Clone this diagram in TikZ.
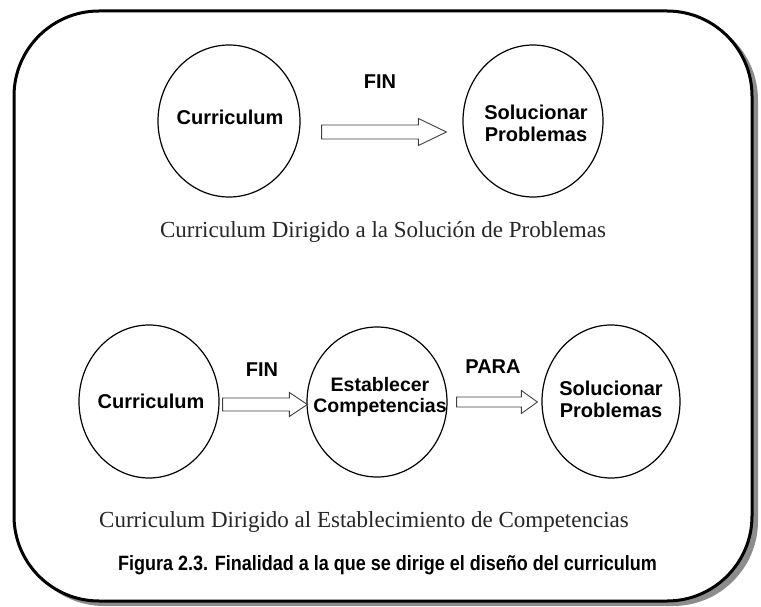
\documentclass[tikz,border=0pt]{standalone}
\usepackage{fontspec}
\setmainfont{Liberation Serif}
\setsansfont{Liberation Sans}
\usetikzlibrary{shapes.geometric,calc}
\begin{document}
\begin{tikzpicture}[x=1pt,y=-1pt,
  bubble/.style={draw=black, line width=1.2pt, ellipse, inner sep=0pt},
  btext/.style={align=center, inner sep=0pt, font=\sffamily\bfseries\fontsize{20}{22}\selectfont},
  lbl/.style={font=\sffamily\bfseries\fontsize{20}{24}\selectfont},
  capt/.style={anchor=base, inner sep=0pt, font=\rmfamily\fontsize{23}{26}\selectfont, text=black!85},
  figcap/.style={anchor=base, inner sep=0pt, font=\sffamily\bfseries\fontsize{18}{20}\selectfont},
  blockarrow/.style n args={3}{draw=black!75, fill=white, line width=0.9pt, line join=miter,
    to path={let \p1=(\tikztostart), \p2=(\tikztotarget) in
      (\x1,\y1+#2) -- (\x2-#1,\y1+#2) -- (\x2-#1,\y1+#3) -- (\x2,\y1)
      -- (\x2-#1,\y1-#3) -- (\x2-#1,\y1-#2) -- (\x1,\y1-#2) -- cycle}}
]
\useasboundingbox (0,0) rectangle (761,607);
% frame with shadow
\fill[black!45, rounded corners=85pt] (19,15) rectangle (758,606);
\draw[line width=3pt, fill=white, rounded corners=85pt] (14,11) rectangle (752,601);

% top row
\node[bubble, minimum width=142pt, minimum height=152pt] (c1) at (229,121) {};
\node[btext] (c1t) at (230,117) {Curriculum};
\node[bubble, minimum width=140pt, minimum height=152pt] (c2) at (533,121) {};
\node[btext] (c2t) at (536,123.5) {Solucionar\\Problemas};
\draw[blockarrow={28pt}{7pt}{13.5pt}] ($(c1.east)+(21,11)$) to ($(c2.west)+(-16,11)$);
\node[lbl] (fin1) at (380,82) {FIN};
\node[capt] (cap1) at (383,237) {Curriculum Dirigido a la Solución de Problemas};

% bottom row
\node[bubble, minimum width=140pt, minimum height=153pt] (b1) at (149,401.5) {};
\node[btext] (b1t) at (151,401) {Curriculum};
\node[bubble, minimum width=140pt, minimum height=150pt] (b2) at (377,402) {};
\node[btext, font=\sffamily\bfseries\fontsize{19.5}{21.5}\selectfont] (b2t) at (380,397) {Establecer\\Competencias};
\node[bubble, minimum width=138pt, minimum height=153pt] (b3) at (611,401.5) {};
\node[btext] (b3t) at (611,399) {Solucionar\\Problemas};
\draw[blockarrow={18pt}{6.5pt}{12pt}] ($(b1.east)+(3,3)$) to ($(b2.west)+(1,3)$);
\draw[blockarrow={16pt}{5pt}{11.5pt}] ($(b2.east)+(9,0)$) to ($(b3.west)+(-4,0)$);
\node[lbl] (fin2) at (262,370) {FIN};
\node[lbl] (para) at (493,367) {PARA};
\node[capt] (cap2) at (364,527) {Curriculum Dirigido al Establecimiento de Competencias};

\node[figcap] (fig) at (387.5,570) {\scalebox{1}[1.15]{Figura 2.3. Finalidad a la que se dirige el diseño del curriculum}};
\end{tikzpicture}
\end{document}
